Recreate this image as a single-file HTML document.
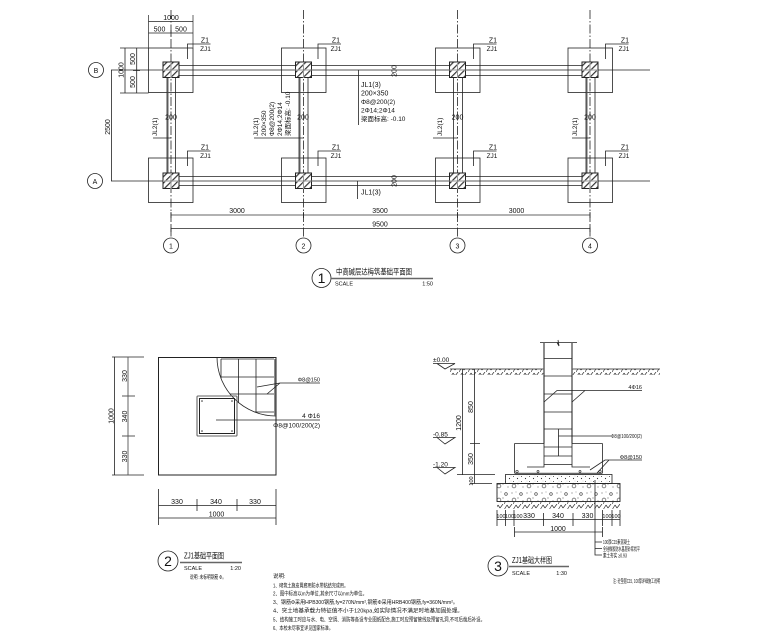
<!DOCTYPE html>
<html><head><meta charset="utf-8">
<style>
html,body{margin:0;padding:0;background:#fff;width:760px;height:640px;overflow:hidden}
svg{display:block}
text{font-family:"Liberation Sans Narrow","Liberation Sans","Noto Sans CJK SC",sans-serif;fill:#111;font-size:7px}
.m{text-anchor:middle}.e{text-anchor:end}
.s{font-size:5.5px}.n{font-size:6.5px}
.l{stroke:#222;stroke-width:.8;fill:none}
.g{stroke:#555;stroke-width:.9;fill:none}
.t{stroke:#666;stroke-width:1.5;fill:none}
.d{stroke:#222;stroke-width:.8;fill:none;stroke-dasharray:9 2 1.5 2}
</style></head><body>
<svg width="760" height="640" viewBox="0 0 760 640" xmlns="http://www.w3.org/2000/svg">
<defs>
<pattern id="h" width="4.5" height="4.5" patternUnits="userSpaceOnUse" patternTransform="rotate(45)"><rect width="4.5" height="4.5" fill="#fff"/><rect width="1.2" height="4.5" fill="#333"/></pattern>
<pattern id="e" width="9" height="6" patternUnits="userSpaceOnUse"><path d="M0 6L3 1M3 1L5 4M5 4L8 0" stroke="#333" stroke-width=".7" fill="none"/></pattern>
<pattern id="c1" width="8" height="5" patternUnits="userSpaceOnUse"><circle cx="1.5" cy="1.5" r=".5" fill="#333"/><circle cx="5.5" cy="3.5" r=".6" fill="#333"/><circle cx="7" cy="1" r=".3" fill="#555"/></pattern>
<pattern id="c2" width="15" height="14" patternUnits="userSpaceOnUse"><circle cx="4" cy="10" r="1.9" fill="none" stroke="#333" stroke-width=".6"/><circle cx="11" cy="4" r="1.3" fill="none" stroke="#333" stroke-width=".6"/><circle cx="2" cy="3" r=".5" fill="#333"/><circle cx="8" cy="8" r=".5" fill="#333"/><circle cx="13" cy="11" r=".5" fill="#333"/><circle cx="6" cy="2" r=".4" fill="#333"/></pattern>
<g id="foot"><rect x="-22.5" y="-22.5" width="44.5" height="44.5" class="l"/></g>
<g id="col"><rect x="-8" y="-8" width="16" height="15.5" fill="url(#h)" stroke="#222" stroke-width="1"/><path d="M-8 0H8M0 -8V8" stroke="#fff" stroke-width="1.2"/><path d="M-8 0H8M0 -8V8" stroke="#333" stroke-width=".5"/></g>
<g id="lead"><path class="l" d="M0 15V0H23"/></g>
<clipPath id="arc"><circle cx="276" cy="357" r="59"/></clipPath>
</defs>

<!-- PLAN 1 footings -->
<use href="#foot" x="171" y="70.5"/><use href="#foot" x="304" y="70.5"/><use href="#foot" x="458" y="70.5"/><use href="#foot" x="590.5" y="70.5"/>
<use href="#foot" x="171" y="180.5"/><use href="#foot" x="304" y="180.5"/><use href="#foot" x="458" y="180.5"/><use href="#foot" x="590.5" y="180.5"/>
<path class="l" d="M111 70H650M111 181H650M171 65.5H590M171 75.5H590M171 176.5H590M171 185.5H590"/>
<path class="l" d="M167 78V173M175.5 78V173M299 78V173M308 78V173M453.5 78V173M462.5 78V173M586 78V173M595 78V173"/>
<path class="g" d="M168 78V173M587 78V173M300 78V173"/>
<path class="d" d="M171 10V237M303.5 10V237M457.5 10V237M590 10V237"/>
<use href="#col" x="171" y="70"/><use href="#col" x="303.5" y="70"/><use href="#col" x="457.5" y="70"/><use href="#col" x="590" y="70"/>
<use href="#col" x="171" y="181"/><use href="#col" x="303.5" y="181"/><use href="#col" x="457.5" y="181"/><use href="#col" x="590" y="181"/>
<g fill="#fff" stroke="#222" stroke-width=".8">
<circle cx="96" cy="70" r="7.5"/><circle cx="95" cy="181" r="7.5"/>
<circle cx="171" cy="245.5" r="7.5"/><circle cx="303.5" cy="245.5" r="7.5"/><circle cx="457.5" cy="245.5" r="7.5"/><circle cx="590" cy="245.5" r="7.5"/>
</g>
<text x="96" y="73" class="m">B</text><text x="95" y="184" class="m">A</text>
<text x="171" y="248.5" class="m">1</text><text x="303.5" y="248.5" class="m">2</text><text x="457.5" y="248.5" class="m">3</text><text x="590" y="248.5" class="m">4</text>
<path class="g" d="M148.5 15V48M193 15V48"/>
<path class="l" d="M148.5 21.5H193M148.5 33H193M171 30V36M120 48H148.5M120 93H148.5M125 48V93M136.7 48V93M133 70.5H140"/>
<path class="l" d="M111.5 70V181"/>
<text x="171" y="20" class="m">1000</text><text x="159.500" y="31.5" class="m">500</text><text x="181" y="31.5" class="m">500</text>
<text transform="translate(123.5,70) rotate(-90)" class="m">1000</text>
<text transform="translate(135,59) rotate(-90)" class="m">500</text>
<text transform="translate(135,82) rotate(-90)" class="m">500</text>
<text transform="translate(110,127) rotate(-90)" class="m">2500</text>
<use href="#lead" x="187.5" y="44"/><use href="#lead" x="318" y="44"/><use href="#lead" x="473.5" y="44"/><use href="#lead" x="605.5" y="44"/>
<use href="#lead" x="187.5" y="151"/><use href="#lead" x="318" y="151"/><use href="#lead" x="473.5" y="151"/><use href="#lead" x="605.5" y="151"/>
<text x="205" y="42.5" class="m">Z1</text><text x="205.5" y="51" class="m n">ZJ1</text>
<text x="336" y="42.5" class="m">Z1</text><text x="336" y="51" class="m n">ZJ1</text>
<text x="493" y="42.5" class="m">Z1</text><text x="492" y="51" class="m n">ZJ1</text>
<text x="625" y="42.5" class="m">Z1</text><text x="624" y="51" class="m n">ZJ1</text>
<text x="205" y="149.5" class="m">Z1</text><text x="205.5" y="158" class="m n">ZJ1</text>
<text x="336" y="149.5" class="m">Z1</text><text x="336" y="158" class="m n">ZJ1</text>
<text x="493" y="149.5" class="m">Z1</text><text x="492" y="158" class="m n">ZJ1</text>
<text x="625" y="149.5" class="m">Z1</text><text x="624" y="158" class="m n">ZJ1</text>
<path class="t" d="M171 215H590" style="stroke-width:1"/>
<path class="l" d="M171 228.5H590"/>
<path class="l" d="M171 212V218M303.5 212V218M457.5 212V218M590 212V218M171 225.500V232M590 225.5V232"/>
<text x="237" y="213" class="m">3000</text><text x="380" y="213" class="m">3500</text><text x="516.5" y="213" class="m">3000</text><text x="380" y="226.5" class="m">9500</text>
<text x="171" y="119.5" class="m">200</text><text x="303" y="119.5" class="m">200</text><text x="457.5" y="119.5" class="m">200</text><text x="590" y="119.5" class="m">200</text>
<text transform="translate(396.5,71) rotate(-90)" class="m">200</text><text transform="translate(396.5,181) rotate(-90)" class="m">200</text>
<path class="l" d="M358.5 70V125M357.5 181V199"/>
<text x="361" y="87">JL1(3)</text><text x="361" y="95.5">200×350</text><text x="361" y="104" class="n">Φ8@200(2)</text><text x="361" y="112.5" class="n">2Φ14;2Φ14</text><text x="361" y="121" class="n">梁面标高: -0.10</text>
<text x="361" y="194.5">JL1(3)</text>
<path class="l" d="M153 138H171M254 138H303.5M433 138H457.5M572 138H590"/>
<text transform="translate(157,136) rotate(-90)" class="n">JL2(1)</text>
<text transform="translate(442,136) rotate(-90)" class="n">JL2(1)</text>
<text transform="translate(577,136) rotate(-90)" class="n">JL2(1)</text>
<text transform="translate(258,136) rotate(-90)" class="n">JL2(1)</text>
<text transform="translate(266,136) rotate(-90)" class="n">200×350</text>
<text transform="translate(274,136) rotate(-90)" class="n">Φ8@200(2)</text>
<text transform="translate(282,136) rotate(-90)" class="n">2Φ14,2Φ14</text>
<text transform="translate(290,136) rotate(-90)" class="n">梁面标高: -0.10</text>
<circle cx="321.5" cy="278" r="9.5" class="l"/><text x="321.5" y="283" class="m" style="font-size:14px">1</text>
<text x="336" y="274.5" style="font-size:8px" textLength="76" lengthAdjust="spacingAndGlyphs">中高碱层达梅筑基础平面图</text>
<path class="t" d="M331 278.5H433"/>
<text x="335" y="285.5" class="s">SCALE</text><text x="433" y="285.5" class="e s">1:50</text>

<!-- PLAN 2 -->
<rect x="158.5" y="357.5" width="117.5" height="117.5" class="l" style="stroke-width:1"/>
<path class="l" d="M217 357A59 59 0 0 0 276 416"/>
<g clip-path="url(#arc)"><path class="l" d="M221 359H274M221 377H274M221 394H274M221 412H274M221 359V416M238.5 359V416M256 359V416"/><path class="t" d="M275 359V416"/></g>
<rect x="197" y="396" width="40" height="40" rx="1" class="t" style="stroke-width:1.1"/>
<rect x="199.5" y="398.5" width="35" height="35" class="l" style="stroke-width:1"/>
<g fill="#333"><circle cx="202" cy="401" r=".8"/><circle cx="232" cy="401" r=".8"/><circle cx="202" cy="431" r=".8"/><circle cx="232" cy="431" r=".8"/></g>
<path class="l" d="M320 383H280L257 387M280 383L267 394M216 420H320"/>
<text x="320" y="381.5" class="e s">Φ8@150</text>
<text x="320" y="418" class="e n">4 Φ16</text><text x="320" y="427.5" class="e n">Φ8@100/200(2)</text>
<path class="l" d="M114.5 357V475M112 357H144M112 475H144M122 396H135M122 436H135"/>
<path class="g" d="M128 357V475"/>
<text transform="translate(113.5,416) rotate(-90)" class="m">1000</text>
<text transform="translate(127,376) rotate(-90)" class="m">330</text><text transform="translate(127,416.5) rotate(-90)" class="m">340</text><text transform="translate(127,456.5) rotate(-90)" class="m">330</text>
<path class="l" d="M158.5 489V525M276 489V525M158.5 505.5H276M158.5 518H276M197 499V511M237 499V511"/>
<text x="177" y="504" class="m">330</text><text x="216" y="504" class="m">340</text><text x="255" y="504" class="m">330</text><text x="216.5" y="516.5" class="m">1000</text>
<circle cx="168" cy="561" r="10" class="l"/><text x="168" y="566" class="m" style="font-size:14px">2</text>
<text x="184" y="558.5" style="font-size:8px" textLength="40" lengthAdjust="spacingAndGlyphs">ZJ1基础平面图</text>
<path class="t" d="M180 562.5H242"/>
<text x="184" y="570" class="s">SCALE</text><text x="241" y="570" class="e s">1:20</text>
<text x="190" y="579" class="s" textLength="36" lengthAdjust="spacingAndGlyphs">说明: 未标明钢筋 Φ。</text>

<!-- PLAN 3 -->
<rect x="450" y="369" width="94" height="6" fill="url(#e)"/><rect x="572" y="369" width="88" height="6" fill="url(#e)"/>
<path class="l" d="M450 369H544M572 369H660"/>
<path class="l" d="M540 342.5H577M557 342.5L559 346L558 340"/>
<path class="t" d="M544 342.5V443.5M572 342.5V443.5"/>
<path class="l" d="M544 358.5H572M544 376H572M544 394H572M544 412H572M544 429H572M544 447H572M544 456H572M544 464.5H572"/>
<path class="l" d="M514.5 443.5H544M572 443.5H602.5M514.5 443.5V473M602.5 443.5V473M527 467H544V443.5M590 467H572V443.5"/>
<path class="t" d="M514.5 473.5H602.5"/>
<g fill="none" stroke="#333" stroke-width=".7"><circle cx="517" cy="471.5" r="1.2"/><circle cx="538" cy="471.5" r="1"/><circle cx="580" cy="471.5" r="1"/><circle cx="600" cy="471.5" r="1.2"/></g>
<rect x="505.5" y="474.5" width="106.5" height="9" fill="url(#c1)" stroke="#222" stroke-width=".8"/>
<rect x="497" y="483.5" width="123" height="18" fill="url(#c2)" stroke="#222" stroke-width=".9"/>
<rect x="497" y="502" width="123" height="7" fill="url(#e)"/>
<path class="l" d="M497 510V526M505.5 510V526M514 510V526M543.5 513V526M573 513V526M602.5 510V526M612 510V526M620 510V526M497 519.5H620"/>
<path class="l" d="M514.5 527V537M602.5 527V537M514.5 532H602.5"/>
<text x="501" y="518" class="m s">100</text><text x="509.5" y="518" class="m s">100</text><text x="518" y="518" class="m s">100</text>
<text x="529" y="518" class="m">330</text><text x="558" y="518" class="m">340</text><text x="587.5" y="518" class="m">330</text>
<text x="607" y="518" class="m s">100</text><text x="616" y="518" class="m s">100</text>
<text x="558" y="531" class="m">1000</text>
<path class="l" d="M595 480V555H602M595 542H602M595 548.5H602"/>
<text x="603" y="544" class="s" textLength="27" lengthAdjust="spacingAndGlyphs">100厚C15素混凝土</text>
<text x="603" y="551" class="s" textLength="37" lengthAdjust="spacingAndGlyphs">全硅橡胶防水基层砂浆找平</text>
<text x="603" y="557.5" class="s" textLength="24" lengthAdjust="spacingAndGlyphs">素土夯实 ≥0.93</text>
<path class="l" d="M433 363.5H455L445 369L437 363.5M433 437.5H455L445 444L437 437.5M433 467.5H455L445 474L437 467.5"/>
<text x="433" y="362" class="n">±0.00</text><text x="433" y="436.5" class="n">-0.85</text><text x="433" y="466.5" class="n">-1.20</text>
<path class="l" d="M462.5 369V475M474.5 369V483.5M470 443.5H480M457 474.5H495M470 483.5H492"/>
<text transform="translate(461,423) rotate(-90)" class="m">1200</text>
<text transform="translate(473,407) rotate(-90)" class="m">850</text>
<text transform="translate(473,459) rotate(-90)" class="m">350</text>
<text transform="translate(473,481) rotate(-90)" class="m s">100</text>
<path class="l" d="M544 402L557 390.5H642M572 402L585 390.5M558.5 429V456M558.5 436H611M642 460H605L590 470M609 460L597 473"/>
<text x="642" y="389" class="e s">4Φ16</text>
<text x="642" y="438" class="e s" textLength="31" lengthAdjust="spacingAndGlyphs">Φ8@100/200(2)</text>
<text x="642" y="459" class="e s">Φ8@150</text>
<circle cx="498" cy="566" r="10" class="l"/><text x="498" y="571" class="m" style="font-size:14px">3</text>
<text x="512" y="563" style="font-size:8px" textLength="40" lengthAdjust="spacingAndGlyphs">ZJ1基础大样图</text>
<path class="t" d="M509 566.5H569"/>
<text x="512" y="575" class="s">SCALE</text><text x="567" y="575" class="e s">1:30</text>
<text x="613" y="583" class="s" textLength="47" lengthAdjust="spacingAndGlyphs">注: 砼垫层C15, 100厚详细施工说明</text>

<!-- NOTES -->
<text x="273" y="578" class="s">说明:</text>
<text x="273" y="587.5" class="s" textLength="75" lengthAdjust="spacingAndGlyphs">1、砌筑土施皮胃廊用防水带粘结完成用。</text>
<text x="273" y="595.5" class="s" textLength="94" lengthAdjust="spacingAndGlyphs">2、图中标高以m为单位,其余尺寸以mm为单位。</text>
<text x="273" y="604" class="s" textLength="185" lengthAdjust="spacingAndGlyphs">3、钢筋Φ采用HPB300钢筋,fy=270N/mm²,钢筋Φ采用HRB400钢筋,fy=360N/mm²。</text>
<text x="273" y="612.5" class="s" textLength="190" lengthAdjust="spacingAndGlyphs">4、突土地基承载力特征值不小于120kpa,如实际情况不满足时地基加固处理。</text>
<text x="273" y="621.5" class="s" textLength="212" lengthAdjust="spacingAndGlyphs">5、结构施工时应与水、电、空调、消防等各设专业图纸配合,施工时应预留管线及预留孔洞,不可后凿后补设。</text>
<text x="273" y="630" class="s" textLength="60" lengthAdjust="spacingAndGlyphs">6、本校未尽事宜详见国家标准。</text>
</svg>
</body></html>
